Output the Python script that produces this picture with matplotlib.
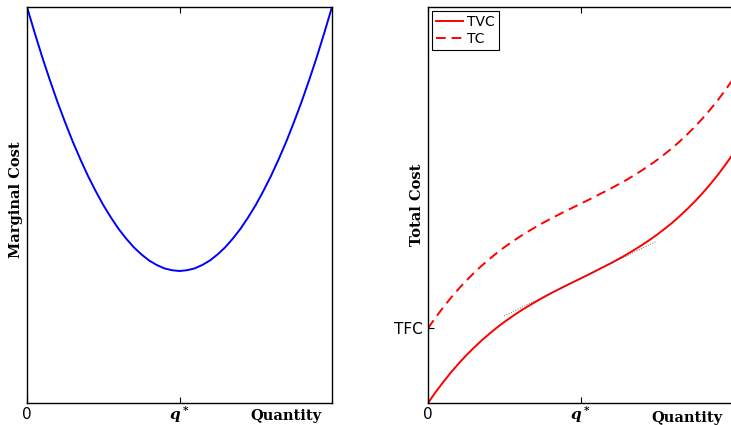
import matplotlib.pyplot as plt

plt.rcParams.update({
    'font.family': 'DejaVu Sans',
    'mathtext.fontset': 'custom',
    'mathtext.it': 'DejaVu Serif:italic:bold',
    'mathtext.rm': 'DejaVu Serif:bold',
    'axes.linewidth': 1.0,
})

# quantity grid (q* = 1)
q = [0.00, 0.05, 0.10, 0.15, 0.20, 0.25, 0.30, 0.35, 0.40, 0.45, 0.50,
     0.55, 0.60, 0.65, 0.70, 0.75, 0.80, 0.85, 0.90, 0.95, 1.00,
     1.05, 1.10, 1.15, 1.20, 1.25, 1.30, 1.35, 1.40, 1.45, 1.50,
     1.55, 1.60, 1.65, 1.70, 1.75, 1.80, 1.85, 1.90, 1.95, 2.00]
# marginal cost
mc = [1.500, 1.403, 1.310, 1.223, 1.140, 1.063, 0.990, 0.923, 0.860, 0.803, 0.750,
      0.703, 0.660, 0.623, 0.590, 0.563, 0.540, 0.523, 0.510, 0.503, 0.500,
      0.503, 0.510, 0.523, 0.540, 0.563, 0.590, 0.623, 0.660, 0.703, 0.750,
      0.803, 0.860, 0.923, 0.990, 1.063, 1.140, 1.223, 1.310, 1.403, 1.500]
# total variable cost
tvc = [0.000, 0.073, 0.140, 0.204, 0.263, 0.318, 0.369, 0.417, 0.461, 0.503, 0.542,
       0.578, 0.612, 0.644, 0.674, 0.703, 0.731, 0.757, 0.783, 0.808, 0.833,
       0.858, 0.884, 0.910, 0.936, 0.964, 0.992, 1.023, 1.055, 1.089, 1.125,
       1.164, 1.205, 1.250, 1.298, 1.349, 1.404, 1.463, 1.526, 1.594, 1.667]
tfc = 0.5
tc = [v + tfc for v in tvc]
# tangent at the inflection point
tan_q = [0.5, 1.5]
tan_c = [0.583, 1.083]

q_star = 1.0
serif_bold = dict(family='DejaVu Serif', fontweight='bold', fontsize=10.5)

fig = plt.figure(figsize=(7.31, 4.25), dpi=100)
ax1 = fig.add_axes([27 / 731, 22 / 425, 305 / 731, 396 / 425])
ax2 = fig.add_axes([428 / 731, 22 / 425, 305 / 731, 396 / 425])

# Left: marginal cost
ax1.plot(q, mc, color='#0000ff', lw=1.4)
ax1.set_xlim(0, 2)
ax1.set_ylim(0, 1.5)
ax1.set_yticks([])
ax1.set_ylabel('Marginal Cost', **serif_bold)
ax1.yaxis.set_label_coords(-0.013, 0.513)

# Right: total cost
ax2.plot(q, tvc, color='red', lw=1.4, label='TVC')
ax2.plot(q, tc, color='red', lw=1.4, ls=(0, (5, 3)), label='TC')
ax2.plot(tan_q, tan_c, color='#444444', lw=0.6, ls=(0, (1, 2)))
ax2.set_xlim(0, 2)
ax2.set_ylim(0, 2.65)
ax2.set_yticks([tfc])
ax2.set_yticklabels(['TFC'])
ax2.set_ylabel('Total Cost', **serif_bold)
ax2.yaxis.set_label_coords(-0.013, 0.5)
leg = ax2.legend(loc='upper left', fontsize=10, fancybox=False, framealpha=1,
                 edgecolor='black', handlelength=1.9, handletextpad=0.3,
                 borderpad=0.3, labelspacing=0.2, borderaxespad=0.3)
leg.get_frame().set_linewidth(0.8)

for ax, qy in ((ax1, -4), (ax2, -6)):
    ax.set_xticks([0, q_star])
    ax.set_xticklabels(['0', ''])
    ax.tick_params(axis='x', direction='in', top=True, length=4,
                   labelsize=11, pad=3)
    ax.tick_params(axis='y', direction='in', right=False, length=4,
                   labelsize=11, pad=4)
    ax.annotate('$q^*$', xy=(q_star, 0), xycoords=('data', 'axes fraction'),
                xytext=(0, -1), textcoords='offset points',
                ha='center', va='top', fontsize=11)
    ax.annotate('Quantity', xy=(1.7, 0), xycoords=('data', 'axes fraction'),
                xytext=(0, qy), textcoords='offset points',
                ha='center', va='top', **serif_bold)

fig.savefig('out.png', dpi=100)
